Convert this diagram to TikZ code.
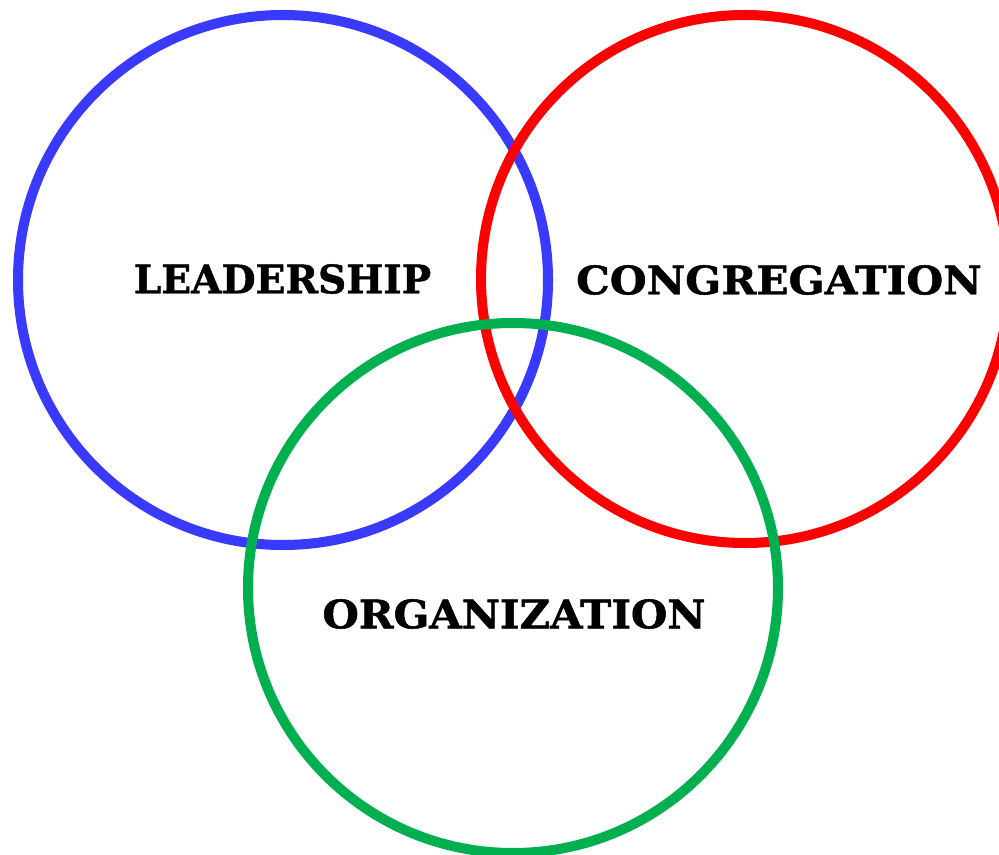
\documentclass[tikz,border=0pt]{standalone}
\usepackage{fontspec}
\setmainfont{DejaVu Serif}
\newfontfamily\heavyfont[FakeBold=1.2]{DejaVu Serif Bold}
\definecolor{leadblue}{RGB}{58,58,255}
\definecolor{congred}{RGB}{255,0,0}
\definecolor{orggreen}{RGB}{0,176,80}
\begin{document}
\begin{tikzpicture}[ring/.style={line width=5.7pt},
	label/.style={font=\heavyfont\fontsize{22.3}{26}\selectfont,inner sep=0pt,transform shape}]
	% page size
	\useasboundingbox (0,0) rectangle (19.98,17.08);
	\clip (0,0) rectangle (19.98,17.08);
	% draw circles
	\draw[ring,leadblue] (5.66,11.48) circle (5.30);
	\draw[ring,congred] (14.90,11.50) circle (5.28);
	\draw[ring,orggreen] (10.26,5.32) circle (5.30);
	% draw labels
	\node[label] (lead) at (5.65,11.50) {LEADERSHIP};
	\node[label,xscale=1.078] (cong) at (15.58,11.48) {CONGREGATION};
	\node[label,xscale=1.067] (org) at (10.28,4.80) {ORGANIZATION};
\end{tikzpicture}
\end{document}
